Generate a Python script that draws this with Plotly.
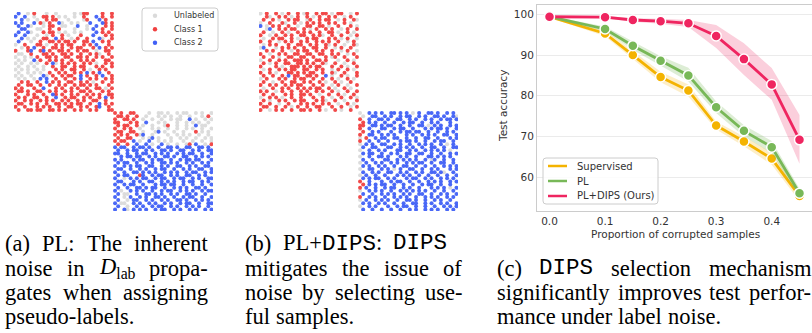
import plotly.graph_objects as go

W, H = 812, 333

# ---------------- Data: line chart (c) ----------------
corruption = [0.0, 0.1, 0.15, 0.2, 0.25, 0.3, 0.35, 0.4, 0.45]
supervised_mean = [99.4, 95.3, 90.0, 84.6, 81.3, 72.7, 68.8, 64.6, 55.4]
supervised_low = [99.2, 94.6, 89.0, 83.3, 79.8, 71.7, 67.6, 63.1, 54.2]
supervised_high = [99.6, 96.0, 91.0, 85.9, 82.8, 73.7, 70.0, 66.1, 56.6]
pl_mean = [99.4, 96.4, 92.3, 88.6, 85.0, 77.2, 71.4, 67.4, 56.1]
pl_low = [99.2, 95.8, 91.3, 87.5, 83.5, 75.8, 70.0, 65.9, 55.0]
pl_high = [99.6, 97.0, 93.3, 89.7, 86.9, 78.6, 72.8, 68.9, 57.2]
dips_mean = [99.4, 99.3, 98.6, 98.3, 97.8, 94.7, 89.0, 82.8, 69.2]
dips_low = [99.2, 99.0, 98.2, 97.7, 96.9, 91.7, 85.1, 79.0, 63.3]
dips_high = [99.6, 99.6, 99.0, 98.9, 98.6, 97.4, 92.9, 86.8, 75.3]
series_names = ["Supervised", "PL", "PL+DIPS (Ours)"]
xtick_vals = [0.0, 0.1, 0.2, 0.3, 0.4]
xtick_text = ["0.0", "0.1", "0.2", "0.3", "0.4"]
ytick_vals = [60, 70, 80, 90, 100]
ytick_text = ["60", "70", "80", "90", "100"]

# ---------------- Data: scatter panels (a) and (b) ----------------
# 32x32 grid per square:
# r = Class 1, b = Class 2, g = Unlabeled, . = empty
class_names = ["Unlabeled", "Class 1", "Class 2"]
class_codes = ["g", "r", "b"]

pl_top_grid = [
    ".b..g.r...g..g.....g.grr....r..r",
    "b..b..g..rr.r.g.g..g..r...b.r..r",
    "..b.g..g..r.rr...g....gr...b.r..",
    "b.b...b.rg.r..bg..g.g...b...br.r",
    ".b..bg...g.rr..gg...b..g..b..r.r",
    "..bb...gg..r..r....g...g.b..r..r",
    ".b..bg...r.rr.g.g..g.g....b.r.r.",
    "b..b...g..g.r..r.g...r...b...r.r",
    "..b.g.g..rr..b.r..g.r..r...bg..r",
    ".b...g..r..rr.r.rr.r..rr.b..r.r.",
    "g..r...rr.g..r.r.rr...r.r.b...r.",
    "..g.r.b..r..rr.r..r.rr...r.b.r.r",
    "r...rb..rb.r..rr.r..r.rr..g..rr.",
    ".gg..r...rr.r..rr.r..r..r.rg..r.",
    "g..g.g.r..rr.r..rr..rr.r..r.r..r",
    ".g.g..b.r..r.r.r..r..r.r.r...rr.",
    "g.g..g.g..r.bg.r.r.r..r.r.g..r.r",
    ".g..g.g..g..r..rr..r.rr...r.r..r",
    "g.g.g..g.g...r.r..rr..r.g..r.r..",
    ".g..g.g.g..r..r.r..r.r.b.r.b..r.",
    "g.g..g...bg.r..r.rr..b.r..r.b..r",
    ".g.g..g.b.b..r..r..r.b..r.r..r.r",
    "..r.r..r..b.r.r..rr..r.r.g..r..r",
    ".r..rr..r..r..r.r..r.rr.r.r...r.",
    "r.r...r..b...r.r..r.r..r..rr.g.r",
    ".rr.r..rr..r.r..r.r..rr.r...r.r.",
    "r...r.r..r..br.r..r.r..r.r.r..rr",
    ".r.r..rr..r..b..r.rr..r.r..r.b.r",
    "r..r.r..r.r.r..r.r..r.r..rr..r..",
    ".rr..r.r..r..rr.r.r.rr..r..b.r.r",
    "r..r...r.r.r..r..rr..r.r..rb..r.",
    ".r..rr.rr..rr.r.r..r.r..r.r...rr",
]
pl_bottom_grid = [
    "r.r..rr....g..gg.g..g.gg..g.g..g",
    ".rr.r..r..g...g.g.g..g..g...g.r.",
    "r..rr.r..g..g..g..g.gg..b.g..g.g",
    "rr...r.r..b...g.g...g..g.g.g..g.",
    ".r.rr..r.g..g...gr..g..g..b.gg..",
    "r..r.r..g...g.g..g..g..g.g..g..g",
    ".rr..rr..g...gb.g..g..g...r.g.g.",
    "r.r.r..rgb..g....g..g.g.g..g..g.",
    ".r..rr...g.gb.g...g..g.g..g..g.g",
    "r.rr..b.g..b..g.g.g...g..g..g..g",
    ".r..r..b..b.g..b.g..g..gr.b..g.r",
    "b.bb..b.bb.b..b..bb.b..bb..bb.b.",
    ".b..b.bb..b.b..bb.b..bb..b.b..bb",
    "bb..b..b.bb..b.b.b..b.b.bb..b..b",
    "..b.bb.bb..b.b..bb.b..bb..b.b.b.",
    "b.b...b.bb..b.bb..b..b.bb.bb...b",
    ".b.bb..b..b.b..bb.b.b..b.b..b.b.",
    "b..b.b.bb..bb..b.b..bb..b.b..bb.",
    ".bb..b..b.b..b.bb..b..b.b..bb..b",
    "b..b..bb.b.b.b..b.b.b..b.bb..b.b",
    ".b.bb...rb..b.bb..b.b..bb..b.b..",
    "b..g.b.b.bb..b.bb..b.bb..b.b..bb",
    ".bb...b.b..bb..b.b.b..b.bb..b.b.",
    "b..b.bb..b...b.bb.bb..b..b..b..b",
    ".b..b..bb.b.bb..b..b.b.b..bb.b..",
    "b.g..b.b.b..b..b.bb..b.b.b..b.bb",
    ".b.gg..b..bb.b.b..b.b..bb.b..b..",
    "b..g.b..b.b..bb.b..b..b.bb..b..b",
    ".b..g.bb..b.b..b.b..bb.b..b.b.b.",
    "b.gg..b.b..b.b..b.b..b.bb..b..bb",
    ".b..g..b.b..b.bb..b.b..b.b.b..b.",
    "b..bg.b.b.b..b.bb..b.b..b.b..b.b",
]
dips_top_grid = [
    "g.r..r.g.r..r.gr..r.rr.g.rr..g.r",
    "..rg..r.r.g.r..r.g.r..r.r..g.r..",
    ".r..r.g..r.rr..gr..r.rr..g.r..rg",
    "g..r...rg..r.g.r.r.r..r.r..r.g..",
    "b.g.r.r..r..g..rr..rr.g..r...r.g",
    "..gb..r.r.rr..r.g.r..r.r..g.r..r",
    ".r..g..r.g..r.r.r..r..rr.g..r.g.",
    "r..g.r..r.r..rr..r.rg..r..r..g.r",
    ".g..r.rr..r.g..r.rr...r.r.g.r..g",
    "r..r..g.r.r..r.r..r.r.r..r..g.r.",
    ".g.r.r...r..rr..r.r..rg.r..g..rg",
    "gb...g.r.r.r..r..rr..r..g.r..r..",
    "..r.r..r..g.r.rr..r.r..r..g.r..g",
    "r..g..r.r..rr..rr..rr..r.r..g.r.",
    ".r..r.g..rr..rr..r...r.gr..r...r",
    "g..r..r.r..rrr.r..rr.r...g..r.g.",
    ".r.g.r..rr..rr.r.r..rg..r..g..r.",
    "r....r.g..rrr.r.r.rr...r..r.g..r",
    ".g.r..r.r.rr..rr..r.r..g.r..r.g.",
    "r..r.g...rr.r.r.rr..r..rg..r...r",
    ".r..r..r.b.rr..rr.r..b.g..r.g..r",
    "g.r...r.r..r.rr..r..r..r.g..r.g.",
    ".r..g..r..rr..r.r..r.g..r.g..r..",
    "r..r.r..r.r.rr...r..r..g.r..g..r",
    ".g..r..r.r..r.r.r.rr..r.g..r.g..",
    "r.r..g.r..r..r.r..r.r..r.g..r..r",
    ".r..r...r.r..rr.r..g..r..r.g..r.",
    "g..r.r.g..r..r...r..r..g..r..r.g",
    ".r.g..r.r..r.rr...r.rg..r..g...r",
    "r..r..g..r...r.r.r..r.r..g..r.g.",
    ".rr..r..r.g.r..r..rr...r..r..g.r",
    "r..g.r.r..r..rr.r..r.g..r.g..r..",
]
dips_bottom_grid = [
    "g..b.b.b..bb.b.b.g.b..bb.b..b.b.",
    ".g..bb..b.b..b.bb..b.b..bb.b..bg",
    "r..b..bb.b..bb..b.b..b.b..b.bb.b",
    ".r.b.b..b..b..b.bb..b..b.b...b..",
    "rr..bb.b.bb..b..b..bb.g.b.b..b.b",
    "r..b...bb..b.bb..b...b.b.bb.b..b",
    ".r..b.b...b..b.bb.bb..b..b..b.b.",
    "r..bb..b.b.b...b.b..b.b.b..bb..b",
    "g.r..b.bb..bb..b..b..bb..b...b.b",
    "r..b..b..b...b.bb.b..b..b.bb..b.",
    "g.b.b..bb..b.b..b..b.b.b..b.g.b.",
    ".b..bb...bb..b.b.b..b..bb..b..bb",
    "g..b..b.b...bb..b.b..b.b.b.b.g..",
    ".b.bb..b..b.b..bb..bb..b..b..b.b",
    "g..b..bb.b...b.b..b...bb.b.b.b..",
    ".b..b...bb..b.b.b.b..b.gb..b..b.",
    "g.b..b.b..b.b..b.b.bb..b..bb..b.",
    ".b.b..b.b..b..bb..b..b..b..b.b.b",
    "g..bb..b.b.g.b..bb..b..b.b...b.b",
    ".b..b.b..bb..b.b..b.b..bb.bg..b.",
    "g.b..b..b...b.b.b..b..b..b..b..b",
    ".b.b.bb..b.b...b.bb..b.b..b.b.b.",
    "r..b...b..b.bb..b..b..b.b.b..b.b",
    ".r.b.b.bb..b..b..b..b.bb..b..b..",
    "r.b..b..b.bb..b.b..b...b.b.b.g.b",
    "g..b.b.b..b..b.b.b.b.b..b..b..b.",
    ".b..b..b.b.b..b.b..bb..b..b.b..b",
    "r..b.b..b..b.b.b..b..b.b.b..b.b.",
    "g.b..b.b.b..b..bb.b..b..b.b..b..",
    ".b.b..b.b..b..b..bb..b.b..b.b..b",
    "g..b.b...b..b.bb..b..b..b..b.b.b",
    ".b..b..b..b..b..b.b..b.b.b..b.b.",
]

# ---------------- Captions (words; segments: r=roman, m=mono, i=italic, s=subscript) ----
caption_a = [
    (["(a)", "PL:", "The", "inherent"], True),
    (["noise", "in", [("D", "i"), ("lab", "s")], "propa-"], True),
    (["gates", "when", "assigning"], True),
    (["pseudo-labels."], False),
]
caption_b = [
    (["(b)", [("PL+", "r"), ("DIPS", "m"), (":", "r")], [("DIPS", "m")]], True),
    (["mitigates", "the", "issue", "of"], True),
    (["noise", "by", "selecting", "use-"], True),
    (["ful", "samples."], False),
]
caption_c = [
    (["(c)", [("DIPS", "m")], "selection", "mechanism"], True),
    (["significantly", "improves", "test", "perfor-"], True),
    (["mance", "under", "label", "noise."], False),
]

# ---------------- Styles ----------------
CLASS_COLORS = {"g": "#dadada", "r": "#f04040", "b": "#4060f5"}
LINE_COLORS = ["#f4b300", "#78b858", "#ef2560"]
BAND_COLORS = ["rgba(244,179,0,0.22)", "rgba(120,184,88,0.25)", "rgba(239,37,96,0.22)"]
SANS = "DejaVu Sans"
SERIF = "Liberation Serif"
MONO = "Liberation Mono"
CAP_FS = 22.5

TIMES = {'a': 444, 'b': 500, 'c': 444, 'd': 500, 'e': 444, 'f': 333, 'g': 500, 'h': 500, 'i': 278,
         'j': 278, 'k': 500, 'l': 278, 'm': 778, 'n': 500, 'o': 500, 'p': 500, 'q': 500, 'r': 333,
         's': 389, 't': 278, 'u': 500, 'v': 500, 'w': 722, 'x': 500, 'y': 500, 'z': 444, 'P': 556,
         'L': 611, 'T': 611, 'D': 722, '(': 333, ')': 333, ':': 278, '.': 250, '-': 333, '+': 564}


def px(x):
    return x / W


def py(y):
    return 1 - y / H


def grid_points(grid, col_off, row_off, code):
    xs, ys = [], []
    for r, row in enumerate(grid):
        for c, ch in enumerate(row):
            if ch == code:
                xs.append(col_off + c)
                ys.append(row_off + r)
    return xs, ys


def word_html_width(word):
    segs = [(word, "r")] if isinstance(word, str) else word
    html, em = "", 0.0
    for text, kind in segs:
        if kind == "m":
            html += f"<span style=\"font-family:'{MONO}'\">{text}</span>"
            em += 600 * len(text)
        elif kind == "i":
            html += f"<i>{text}</i>"
            em += sum(TIMES.get(ch, 500) for ch in text)
        elif kind == "s":
            html += f"<sub>{text}</sub>"
            em += 0.7 * sum(TIMES.get(ch, 500) for ch in text)
        else:
            html += text
            em += sum(TIMES.get(ch, 500) for ch in text)
    return html, em / 1000 * CAP_FS


fig = go.Figure()

# ---- scatter panels ----
for xa, ya, top, bottom in [("x", "y", pl_top_grid, pl_bottom_grid),
                            ("x2", "y2", dips_top_grid, dips_bottom_grid)]:
    for code, name in zip(class_codes, class_names):
        x1, y1 = grid_points(top, 0, 0, code)
        x2, y2 = grid_points(bottom, 32, 32, code)
        fig.add_trace(go.Scatter(
            x=x1 + x2, y=y1 + y2, mode="markers", name=name,
            marker=dict(size=4.0, color=CLASS_COLORS[code], opacity=0.95, line=dict(width=0)),
            xaxis=xa, yaxis=ya, showlegend=False, hoverinfo="skip"))

# ---- line chart ----
means = [supervised_mean, pl_mean, dips_mean]
lows = [supervised_low, pl_low, dips_low]
highs = [supervised_high, pl_high, dips_high]
for i in range(3):
    fig.add_trace(go.Scatter(x=corruption, y=highs[i], mode="lines", line=dict(width=0),
                             xaxis="x3", yaxis="y3", showlegend=False, hoverinfo="skip"))
    fig.add_trace(go.Scatter(x=corruption, y=lows[i], mode="lines", line=dict(width=0),
                             fill="tonexty", fillcolor=BAND_COLORS[i],
                             xaxis="x3", yaxis="y3", showlegend=False, hoverinfo="skip"))
    fig.add_trace(go.Scatter(x=corruption, y=means[i], mode="lines+markers", name=series_names[i],
                             line=dict(color=LINE_COLORS[i], width=2.8),
                             marker=dict(size=10, color=LINE_COLORS[i], line=dict(color="white", width=1.5)),
                             xaxis="x3", yaxis="y3", showlegend=False))

hidden = dict(visible=False, showgrid=False, zeroline=False, automargin=False)
fig.update_layout(
    width=W, height=H,
    margin=dict(l=0, r=0, t=0, b=0, autoexpand=False),
    paper_bgcolor="white", plot_bgcolor="white",
    showlegend=False,
    xaxis=dict(domain=[px(14), px(213)], range=[-0.5, 63.5], anchor="y", **hidden),
    yaxis=dict(domain=[py(211), py(12)], range=[63.5, -0.5], anchor="x", **hidden),
    xaxis2=dict(domain=[px(259), px(458)], range=[-0.5, 63.5], anchor="y2", **hidden),
    yaxis2=dict(domain=[py(211), py(12)], range=[63.5, -0.5], anchor="x2", **hidden),
    xaxis3=dict(domain=[px(537), 1.0], range=[-0.0225, 0.4725], anchor="y3", automargin=False,
                tickvals=xtick_vals, ticktext=xtick_text, showgrid=False, zeroline=False,
                showline=True, linecolor="#cccccc", linewidth=1, mirror=True, ticks="",
                tickfont=dict(family=SANS, size=10.5, color="#333333")),
    yaxis3=dict(domain=[py(211), py(5)], range=[51.73, 102.28], anchor="x3", automargin=False,
                tickvals=ytick_vals, ticktext=ytick_text, showgrid=True, gridcolor="#ebebeb",
                gridwidth=1, zeroline=False, showline=True, linecolor="#cccccc", linewidth=1,
                mirror=True, ticks="", tickfont=dict(family=SANS, size=10.5, color="#333333")),
    font=dict(family=SANS, color="#333333"),
)

shapes = []
annotations = []

# axis titles for chart (c)
annotations.append(dict(x=px(503), y=py(106), xref="paper", yref="paper", text="Test accuracy",
                        xanchor="center", yanchor="middle",
                        textangle=-90, showarrow=False, font=dict(family=SANS, size=10.5, color="#333333")))
annotations.append(dict(x=px(675), y=py(233.5), xref="paper", yref="paper",
                        xanchor="center", yanchor="middle",
                        text="Proportion of corrupted samples", showarrow=False,
                        font=dict(family=SANS, size=10.5, color="#333333")))


def rounded_rect(x0, y0, x1, y1, r):
    X0, X1 = px(x0), px(x1)
    Y0, Y1 = py(y0), py(y1)
    rx, ry = r / W, r / H
    return (f"M {X0+rx} {Y0} L {X1-rx} {Y0} Q {X1} {Y0} {X1} {Y0-ry} "
            f"L {X1} {Y1+ry} Q {X1} {Y1} {X1-rx} {Y1} L {X0+rx} {Y1} "
            f"Q {X0} {Y1} {X0} {Y1+ry} L {X0} {Y0-ry} Q {X0} {Y0} {X0+rx} {Y0} Z")


# legend for chart (c)
shapes.append(dict(type="path", xref="paper", yref="paper", path=rounded_rect(543, 158, 658, 204, 3),
                   fillcolor="rgba(255,255,255,0.85)", line=dict(color="#cccccc", width=1), layer="above"))
for i, yy in enumerate([166, 181, 196]):
    shapes.append(dict(type="line", xref="paper", yref="paper", x0=px(548), x1=px(567), y0=py(yy), y1=py(yy),
                       line=dict(color=LINE_COLORS[i], width=2.5), layer="above"))
    annotations.append(dict(x=px(575), y=py(yy), xref="paper", yref="paper", text=series_names[i],
                            xanchor="left", yanchor="middle", showarrow=False,
                            font=dict(family=SANS, size=10, color="#333333")))

# legend for panel (a)
shapes.append(dict(type="path", xref="paper", yref="paper", path=rounded_rect(142, 8, 218, 51, 3),
                   fillcolor="rgba(255,255,255,0.9)", line=dict(color="#cccccc", width=1), layer="above"))
for code, name, yy in zip(class_codes, class_names, [15.7, 29.3, 42.7]):
    shapes.append(dict(type="circle", xref="paper", yref="paper", x0=px(152.8), x1=px(157.2),
                       y0=py(yy - 2.2), y1=py(yy + 2.2), fillcolor=CLASS_COLORS[code],
                       line=dict(width=0), layer="above"))
    annotations.append(dict(x=px(172), y=py(yy), xref="paper", yref="paper", text=name,
                            xanchor="left", yanchor="middle", showarrow=False,
                            font=dict(family=SANS, size=8, color="#333333")))

# captions (justified like the LaTeX source)
LINE_Y = [243, 268, 292, 316]
for caption, xl, xr, first_line in [(caption_a, 5, 208, 0), (caption_b, 245, 447, 0),
                                    (caption_c, 497, 811, 1)]:
    for li, (words, justify) in enumerate(caption):
        items = [word_html_width(w) for w in words]
        total = sum(w for _, w in items)
        if justify and len(items) > 1:
            right = xr if not (caption is caption_b and li > 0) else 462
            gap = (right - xl - total) / (len(items) - 1)
        else:
            gap = 0.25 * CAP_FS
        x = xl
        yy = LINE_Y[first_line + li]
        for html, w in items:
            annotations.append(dict(x=px(x - 1), y=py(yy), xref="paper", yref="paper", text=html,
                                    xanchor="left", yanchor="middle", showarrow=False, borderpad=0,
                                    font=dict(family=SERIF, size=CAP_FS, color="black")))
            x += w + gap

fig.update_layout(shapes=shapes, annotations=annotations)
fig.write_html("out.html", config={"displayModeBar": False},
               post_script="document.body.style.margin='0';")
